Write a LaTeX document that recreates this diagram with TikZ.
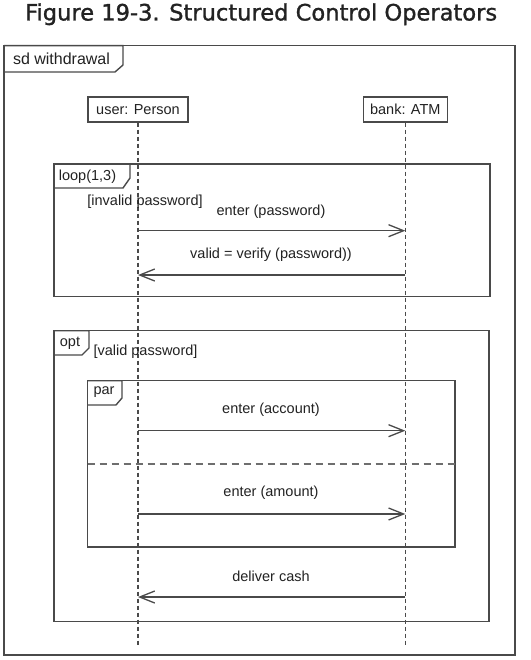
\documentclass[tikz,border=0pt]{standalone}
\usepackage{fontspec}
\setmainfont{Liberation Sans}
\newfontfamily\titlefont[FakeBold=1.2]{DejaVu Sans}
\usetikzlibrary{arrows.meta}
\definecolor{ln}{HTML}{4A4A4A}
\definecolor{tx}{HTML}{222222}
\begin{document}
\begin{tikzpicture}[x=1pt,y=-1pt,
  frame/.style={draw=ln, line width=1.4pt},
  lbl/.style={text=tx, font=\fontsize{14.5}{17}\selectfont, inner sep=0pt},
  headbox/.style={draw=ln, line width=1.2pt, fill=white, text=tx, font=\fontsize{14.5}{17}\selectfont, minimum height=25pt, inner sep=0pt},
  life/.style={draw=ln, line width=1.5pt, dash pattern=on 4pt off 3pt},
  msg/.style={draw=ln, line width=1.3pt, -{Straight Barb[length=15pt,width=12pt]}},
  sep/.style={draw=ln!80, line width=1.3pt, dash pattern=on 7pt off 5pt},
]
\useasboundingbox (0,0) rectangle (530,660);
\fill[white] (0,0) rectangle (530,660);

% title
\node[anchor=base west, inner sep=0pt, text=tx] (title) at (25,20.5)
  {\resizebox{472pt}{!}{\titlefont Figure 19-3. Structured Control Operators}};

% lifeline heads
\node[headbox, minimum width=100pt] (user) at (138,109.5) {user: Person};
\node[headbox, minimum width=84pt] (bank) at (405.3,109.5) {bank: ATM};
\coordinate (uend) at (138,647);
\coordinate (bend) at (405.3,647);
\draw[life] (user.south) -- (uend);
\draw[life] (bank.south) -- (bend);

% outer frame
\draw[frame] (4,45.7) rectangle (515,655);
\draw[frame] (4,45.7) -- (123,45.7) -- (123,65) -- (115,72) -- (4,72);
\node[lbl, font=\fontsize{16}{18}\selectfont] (sd) at (61.5,59) {sd withdrawal};

% loop fragment
\draw[frame] (54,164) rectangle (490,296.7);
\draw[frame] (54,164) -- (130,164) -- (130,178) -- (123,188) -- (54,188);
\node[lbl] (loop) at (87.5,176.7) {loop(1,3)};
\node[lbl] (g1) at (145,201.7) {[invalid password]};
\node[lbl] (l1) at (271,212) {enter (password)};
\coordinate (m1a) at (138,230.7);
\coordinate (m1b) at (405.3,230.7);
\draw[msg] (m1a) -- (m1b);
\node[lbl] (l2) at (271,255) {valid = verify (password))};
\coordinate (m2a) at (405.3,275);
\coordinate (m2b) at (138,275);
\draw[msg] (m2a) -- (m2b);

% opt fragment
\draw[frame] (54,330.7) rectangle (489,621.7);
\draw[frame] (54,330.7) -- (89,330.7) -- (89,348) -- (82,355) -- (54,355);
\node[lbl] (opt) at (70,343) {opt};
\node[lbl] (g2) at (145.5,352) {[valid password]};

% par fragment
\draw[frame] (87.7,380.7) rectangle (455,547);
\draw[frame] (87.7,380.7) -- (122,380.7) -- (122,398) -- (116,405) -- (87.7,405);
\node[lbl] (par) at (104,391.7) {par};
\coordinate (s1) at (87.7,464);
\coordinate (s2) at (455,464);
\draw[sep] (s1) -- (s2);
\node[lbl] (l3) at (271,410) {enter (account)};
\coordinate (m3a) at (138,430.7);
\coordinate (m3b) at (405.3,430.7);
\draw[msg] (m3a) -- (m3b);
\node[lbl] (l4) at (271,493) {enter (amount)};
\coordinate (m4a) at (138,514);
\coordinate (m4b) at (405.3,514);
\draw[msg] (m4a) -- (m4b);

% after par
\node[lbl] (l5) at (271,576) {deliver cash};
\coordinate (m5a) at (405.3,597);
\coordinate (m5b) at (138,597);
\draw[msg] (m5a) -- (m5b);
\end{tikzpicture}
\end{document}
